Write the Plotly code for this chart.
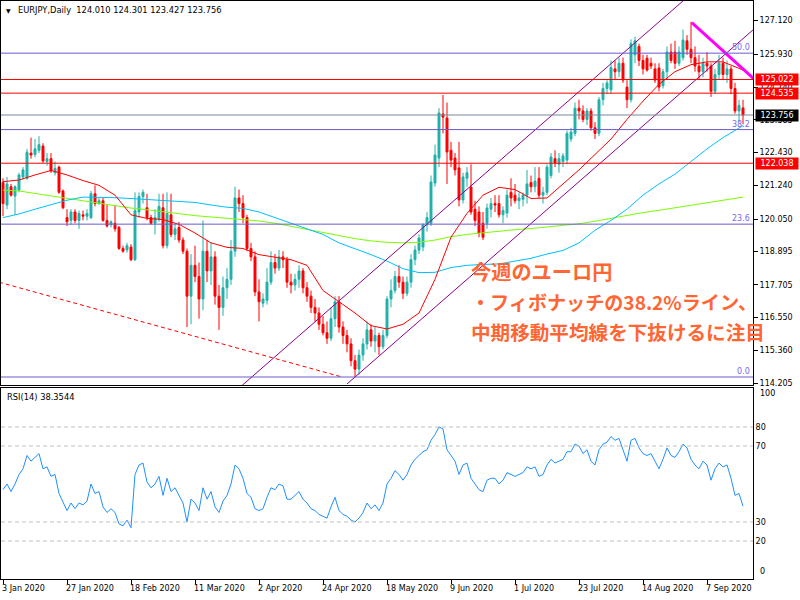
import plotly.graph_objects as go
import pandas as pd

# ---------------- data ----------------
dates = pd.bdate_range("2020-01-03", periods=186)

open_ = [121.35,120.55,121.20,120.87,121.08,121.55,121.50,122.40,122.35,122.50,
         122.65,122.10,122.20,121.70,121.90,121.05,120.10,120.00,120.30,120.00,
         120.20,120.15,120.10,120.95,120.60,120.70,120.00,119.85,119.90,119.75,
         119.00,118.95,119.05,118.60,120.30,120.85,120.45,120.10,119.90,120.05,
         120.45,119.10,120.20,119.50,119.75,119.30,118.90,117.30,118.40,118.00,
         117.20,118.90,118.20,118.70,117.30,116.90,117.60,117.90,118.90,120.80,
         120.60,120.10,119.00,118.70,117.45,117.05,117.15,117.80,118.50,118.30,
         118.70,118.60,117.80,117.70,117.90,118.20,117.60,117.30,116.90,116.70,
         116.30,116.00,115.80,116.50,117.10,116.20,115.90,115.60,115.00,114.70,
         115.20,115.60,116.10,115.70,115.90,115.50,115.90,117.20,117.50,118.00,
         117.80,117.40,117.80,118.60,118.94,119.05,119.84,119.90,121.33,122.22,
         123.79,123.65,122.50,122.22,121.87,120.73,121.50,121.19,120.40,120.30,
         119.90,119.90,120.40,120.60,120.60,120.20,120.26,121.00,120.90,120.70,
         120.75,120.90,121.35,121.20,121.50,120.90,121.00,121.60,122.20,122.00,
         122.10,122.15,122.90,123.10,124.00,123.90,123.60,123.90,123.30,123.10,
         124.30,124.70,124.65,125.40,125.30,125.60,124.75,124.30,125.90,126.20,
         125.70,125.78,125.60,125.40,125.43,124.80,125.30,126.00,126.00,125.60,
         125.80,126.40,126.10,125.80,125.50,125.30,125.60,125.50,124.60,125.20,
         125.60,125.20,125.40,124.70,123.90,124.010]
high = [121.50,121.55,121.30,121.25,121.70,121.90,122.55,122.95,122.90,123.00,
        122.75,122.40,122.40,122.10,121.95,121.10,120.40,120.40,120.40,120.35,
        120.35,120.40,121.05,121.25,120.80,120.80,120.55,120.00,120.55,119.80,
        119.10,119.20,119.15,121.00,121.00,121.10,120.95,120.20,120.40,120.95,
        120.95,121.00,120.95,119.90,119.95,119.40,119.00,118.80,119.10,118.50,
        120.00,119.30,119.20,118.90,117.70,118.00,118.30,119.30,121.20,121.10,
        120.90,120.20,119.20,118.90,117.90,117.40,118.30,118.90,118.80,118.95,
        118.90,118.70,118.10,118.10,118.40,118.30,117.80,117.50,117.20,116.90,
        116.60,116.40,116.90,117.30,117.30,116.40,116.10,115.80,115.20,115.40,
        115.80,116.40,116.30,116.20,116.00,116.10,117.30,117.90,118.20,118.40,
        118.00,118.00,118.80,119.10,119.50,119.90,120.30,121.60,122.70,124.00,
        124.47,124.20,122.80,122.40,122.80,121.70,121.90,122.00,120.70,120.50,
        120.30,120.60,120.80,120.90,120.90,120.50,121.10,121.50,121.30,121.00,
        121.00,121.80,121.60,121.90,121.90,121.20,122.00,122.40,122.50,122.40,
        122.40,123.20,123.30,124.20,124.30,124.10,124.00,124.00,123.50,124.40,
        124.90,125.00,125.70,125.70,125.80,125.80,125.00,126.45,126.55,126.30,
        125.90,125.90,125.80,125.60,125.60,125.40,126.20,126.30,126.40,126.20,
        126.80,126.60,127.08,126.20,125.90,125.80,126.00,125.60,125.40,125.90,
        125.80,125.70,125.50,124.90,124.30,124.301]
low = [120.15,120.40,120.85,120.20,121.00,121.45,121.45,122.20,122.25,122.40,
       122.05,121.95,121.70,121.60,120.95,120.40,119.80,119.85,119.90,119.70,
       120.00,120.00,120.05,120.50,120.55,119.95,119.75,119.75,119.60,118.95,
       118.85,118.85,118.55,118.55,120.10,120.60,120.00,119.85,119.50,119.95,
       119.00,119.00,119.40,119.30,119.20,118.80,116.20,116.30,117.80,116.50,
       116.80,117.80,117.70,117.00,116.10,116.60,117.20,117.70,118.70,120.30,
       119.90,118.90,118.55,117.30,116.40,116.90,117.00,117.70,118.10,118.20,
       118.30,117.60,117.40,117.50,117.60,117.40,117.10,116.70,116.40,116.10,
       115.90,115.60,115.70,116.20,116.00,115.60,115.30,114.80,114.40,114.50,
       115.00,115.40,115.50,115.30,115.20,115.40,115.80,116.90,117.40,117.60,
       117.20,117.30,117.60,118.40,118.80,118.90,119.60,119.80,121.20,121.90,
       123.10,121.30,121.90,121.60,120.50,120.60,121.20,120.20,119.80,119.40,
       119.30,119.70,120.10,120.30,120.10,119.90,120.10,120.50,120.60,120.40,
       120.50,120.60,121.00,121.00,120.80,120.60,120.90,121.50,121.90,121.70,
       121.90,122.00,122.80,123.00,123.60,123.50,123.40,123.20,122.90,123.00,
       124.10,124.50,124.50,125.00,125.10,124.90,124.00,124.20,125.60,125.50,
       125.20,125.30,125.40,124.90,124.60,124.70,125.00,125.60,125.40,125.50,
       125.70,125.90,125.60,125.30,125.00,125.10,125.30,124.40,124.50,125.00,
       125.00,124.90,124.50,123.80,123.50,123.427]
close = [120.60,121.30,120.90,121.20,121.62,121.80,122.43,122.33,122.55,122.70,
         122.12,122.20,121.76,121.85,121.00,120.45,119.95,120.30,120.00,120.25,
         120.15,120.25,120.95,120.60,120.70,120.00,119.80,119.95,119.70,119.00,
         118.90,119.10,118.60,120.35,120.85,121.00,120.10,119.90,120.10,120.50,
         119.10,120.25,119.50,119.70,119.30,118.90,117.30,118.40,118.00,117.20,
         118.90,118.20,118.70,117.30,116.90,117.60,117.90,118.90,120.80,120.60,
         120.10,119.00,118.70,117.45,117.10,117.20,117.80,118.50,118.30,118.70,
         118.60,117.80,117.70,117.90,118.20,117.60,117.30,116.90,116.70,116.30,
         116.00,115.80,116.50,117.10,116.20,115.90,115.60,115.00,114.70,115.20,
         115.60,116.10,115.70,115.90,115.50,115.90,117.20,117.50,118.00,117.80,
         117.40,117.80,118.60,118.95,119.37,119.84,120.10,121.37,122.33,123.83,
         123.68,122.44,122.15,121.80,120.73,121.55,121.70,120.30,120.00,119.55,
         119.40,120.44,120.60,120.55,120.20,120.35,120.90,120.80,120.70,120.80,
         120.90,121.30,121.20,121.40,120.90,121.00,121.90,122.26,122.05,122.20,
         122.30,123.10,123.15,124.00,123.90,123.60,123.90,123.30,123.10,124.30,
         124.70,124.90,125.45,125.30,125.60,125.00,124.30,126.30,126.40,125.70,
         125.40,125.36,125.50,125.00,124.75,125.30,126.00,125.70,125.60,126.00,
         126.43,126.10,125.80,125.50,125.30,125.60,125.50,124.60,125.20,125.60,
         125.20,125.40,124.70,123.90,124.10,123.756]

# moving averages at these bars
ma_idx = list(range(0, 186, 4)) + [185]
ma_red = [121.38,121.44,121.62,121.78,121.62,121.42,121.25,120.9,120.2,120.07,
          120.03,119.86,119.55,119.2,119.04,119.0,118.78,118.7,118.6,118.4,
          117.5,117.1,116.7,116.25,116.13,116.3,116.7,117.9,119.4,120.25,
          120.9,121.18,121.1,120.78,120.8,121.3,121.8,122.35,122.9,123.6,
          124.25,124.85,125.3,125.55,125.65,125.65,125.4,125.36]
ma_blue = [120.1,120.23,120.4,120.57,120.72,120.83,120.83,120.81,120.78,120.75,
           120.72,120.69,120.64,120.55,120.47,120.43,120.3,120.1,119.9,119.7,
           119.5,119.2,119.0,118.78,118.55,118.28,118.14,118.15,118.32,118.4,
           118.43,118.45,118.55,118.65,118.8,118.93,119.2,119.65,120.0,120.4,
           120.9,121.3,121.65,122.1,122.55,122.95,123.3,123.38]
ma_green = [121.08,121.05,120.96,120.87,120.8,120.7,120.62,120.53,120.44,120.38,
            120.3,120.24,120.17,120.12,120.07,120.03,119.98,119.9,119.8,119.68,
            119.57,119.45,119.35,119.27,119.22,119.2,119.22,119.3,119.42,119.5,
            119.56,119.62,119.67,119.71,119.76,119.82,119.88,119.97,120.08,120.18,
            120.28,120.36,120.45,120.55,120.64,120.73,120.81,120.83]

rsi = [47,50,46,50,55, 58,65,62,64,66, 58,59,54,55,45,40, 36,40,37,40,39,41,
       50,45,46,38,35,37,35, 29,28,31,27, 55,60,61,51,48,50,54, 44,53,46,48,44,40,
       30,42,40,36,48,42,46,38,35,41, 44,50,60,58,53,45,43,37,
       36,37,43,48,47,50,49,42,42,44,46,42, 40,37,36,34,33,32,38,43,36,34,33,31,30,
       32,35,40,37,39,36,40,50, 53,57,55,52,55,60,63,65,67,68,73,76,80,79,
       68,65,62,55,60,61,53,50,47,46, 52,53,53,50,52,56,55,54,55,56,59,58,59,54,55,
       60,63,61,62,63,67,67,71,70,66,68,62,60, 68,71,72,75,73,74,68,62,73,74,69,66,
       65,66,62,58,63,69,65,64,67,71,69,63, 60,58,62,60,52,58,61,59,60,53,44,45,38.35]

# drawn objects
fib_low, fib_high = 114.42, 137.50
fib_ratios = [0.0, 23.6, 38.2, 50.0]
hlines_red = [125.022, 124.535, 122.038]
bid = 123.756
channel_upper = ([58, 172], [113.90, 128.07])
channel_lower = ([86, 188], [114.17, 126.85])
trend_dotted = ([-1, 84.75], [117.80, 114.42])
trend_magenta = ([172.2, 188], [127.05, 125.01])

price_ticks = [127.120, 125.930, 124.740, 123.585, 122.430, 121.240, 120.050,
               118.895, 117.705, 116.550, 115.360, 114.205]
rsi_levels = [80, 70, 30, 20]
date_tick_idx = list(range(0, 186, 16))

FONT = "DejaVu Sans"
UP, DN = "#20b2aa", "#ff0000"

fig = go.Figure()

fig.add_trace(go.Candlestick(
    x=list(range(len(close))), open=open_, high=high, low=low, close=close,
    increasing=dict(line=dict(color=UP, width=1), fillcolor=UP),
    decreasing=dict(line=dict(color=DN, width=1), fillcolor=DN),
    whiskerwidth=0, hoverinfo="skip", xaxis="x", yaxis="y"))

for vals, col in [(ma_green, "#7cfc00"), (ma_blue, "#00bfff"), (ma_red, "#ff0000")]:
    fig.add_trace(go.Scatter(x=ma_idx, y=vals, mode="lines",
                             line=dict(color=col, width=1), hoverinfo="skip",
                             xaxis="x", yaxis="y"))

for (xs, ys) in [channel_upper, channel_lower]:
    fig.add_trace(go.Scatter(x=xs, y=ys, mode="lines", line=dict(color="#8b008b", width=1),
                             hoverinfo="skip", xaxis="x", yaxis="y"))
fig.add_trace(go.Scatter(x=trend_dotted[0], y=trend_dotted[1], mode="lines",
                         line=dict(color="#ff0000", width=1, dash="4px,3px"),
                         hoverinfo="skip", xaxis="x", yaxis="y"))
fig.add_trace(go.Scatter(x=trend_magenta[0], y=trend_magenta[1], mode="lines",
                         line=dict(color="#ff00ff", width=3),
                         hoverinfo="skip", xaxis="x", yaxis="y"))

fig.add_trace(go.Scatter(x=list(range(len(rsi))), y=rsi, mode="lines",
                         line=dict(color="#1e90ff", width=1), hoverinfo="skip",
                         xaxis="x2", yaxis="y2"))

shapes = []
annotations = []
for r in fib_ratios:
    lvl = fib_low + r / 100.0 * (fib_high - fib_low)
    shapes.append(dict(type="line", xref="x domain", yref="y", x0=0, x1=1, y0=lvl, y1=lvl,
                       line=dict(color="#6a5acd", width=1)))
    annotations.append(dict(xref="paper", yref="y", x=1, y=lvl, xanchor="right",
                            yanchor="bottom", text=f"{r:.1f}", showarrow=False,
                            font=dict(family=FONT, size=8, color="#7b68ee"),
                            xshift=-1, yshift=-1))
for lvl in hlines_red:
    shapes.append(dict(type="line", xref="x domain", yref="y", x0=0, x1=1, y0=lvl, y1=lvl,
                       line=dict(color="#ff0000", width=1)))
shapes.append(dict(type="line", xref="x domain", yref="y", x0=0, x1=1, y0=bid, y1=bid,
                   line=dict(color="#778899", width=1)))
for lvl in rsi_levels:
    shapes.append(dict(type="line", xref="x2 domain", yref="y2", x0=0, x1=1, y0=lvl, y1=lvl,
                       line=dict(color="#c0c0c0", width=1, dash="4px,3px")))

# price boxes on the right axis
for lvl in hlines_red + [bid]:
    annotations.append(dict(xref="paper", yref="y", x=1, y=lvl, xanchor="left",
                            yanchor="middle", text=f"{lvl:.3f}", showarrow=False,
                            xshift=2, width=40, height=9,
                            bgcolor="#000000" if lvl == bid else "#ff0000",
                            font=dict(family=FONT, size=8, color="white")))

# header texts
annotations.append(dict(xref="paper", yref="paper", x=0, y=1, xanchor="left", yanchor="top",
                        xshift=3, yshift=-4, text="▼", showarrow=False,
                        font=dict(family=FONT, size=6, color="black")))
annotations.append(dict(xref="paper", yref="paper", x=0, y=1, xanchor="left", yanchor="top",
                        xshift=15, yshift=-2,
                        text="EURJPY,Daily  124.010 124.301 123.427 123.756",
                        showarrow=False, font=dict(family=FONT, size=8.3, color="black")))
annotations.append(dict(xref="paper", yref="y2", x=0, y=100.5, xanchor="left", yanchor="top",
                        xshift=4, yshift=-2, text=f"RSI(14) {38.3544:.4f}", showarrow=False,
                        font=dict(family=FONT, size=8.3, color="black")))
# rsi scale end labels
annotations.append(dict(xref="paper", yref="y2", x=1, y=100, xanchor="left", yanchor="middle",
                        xshift=5, yshift=-5, text="100", showarrow=False,
                        font=dict(family=FONT, size=8, color="black")))
annotations.append(dict(xref="paper", yref="y2", x=1, y=0, xanchor="left", yanchor="middle",
                        xshift=5, yshift=7, text="0", showarrow=False,
                        font=dict(family=FONT, size=8, color="black")))
# date labels
for i in date_tick_idx:
    d = dates[i]
    annotations.append(dict(xref="x2", yref="paper", x=i, y=0, xanchor="left", yanchor="top",
                            xshift=-3, yshift=-3, text=f"{d.day} {d.strftime('%b')} {d.year}",
                            showarrow=False, font=dict(family=FONT, size=8, color="black")))

# Japanese commentary
jp_lines = ["今週のユーロ円", "・フィボナッチの38.2%ライン、", "中期移動平均線を下抜けるに注目"]
jp_y = [271, 302, 331]
jp_size = [20.2, 19.1, 19.6]
for t, py, fs in zip(jp_lines, jp_y, jp_size):
    annotations.append(dict(xref="paper", yref="paper", x=(469 - 1) / 752, y=(579 - py) / 578,
                            xanchor="left", yanchor="middle", text=f"<b>{t}</b>",
                            showarrow=False,
                            font=dict(family="Noto Sans CJK JP", size=fs, color="#ff6633")))

axis_common = dict(showgrid=False, zeroline=False, showline=True, mirror=True,
                   linecolor="black", linewidth=1)

fig.update_layout(
    width=800, height=600, template="none",
    paper_bgcolor="white", plot_bgcolor="white",
    margin=dict(l=1, r=47, t=1, b=21),
    showlegend=False,
    xaxis=dict(domain=[0, 1], range=[-0.5, 187.5], anchor="y", showticklabels=False,
               ticks="", rangeslider=dict(visible=False), **axis_common),
    yaxis=dict(domain=[0.3356, 1], range=[114.134, 127.819], side="right", anchor="x",
               tickvals=price_ticks, ticktext=[f"{v:.3f}" for v in price_ticks],
               ticks="outside", ticklen=4, tickcolor="black",
               tickfont=dict(family=FONT, size=8, color="black"), **axis_common),
    xaxis2=dict(domain=[0, 1], range=[-0.5, 187.5], anchor="y2", matches="x",
                tickvals=date_tick_idx, ticks="outside", ticklen=4, tickcolor="black",
                showticklabels=False, rangeslider=dict(visible=False), **axis_common),
    yaxis2=dict(domain=[0, 0.3304], range=[0, 100.5], side="right", anchor="x2",
                tickvals=rsi_levels, ticktext=[str(v) for v in rsi_levels],
                ticks="", tickfont=dict(family=FONT, size=8, color="black"), **axis_common),
    shapes=shapes, annotations=annotations,
)

fig.write_html("out.html")
